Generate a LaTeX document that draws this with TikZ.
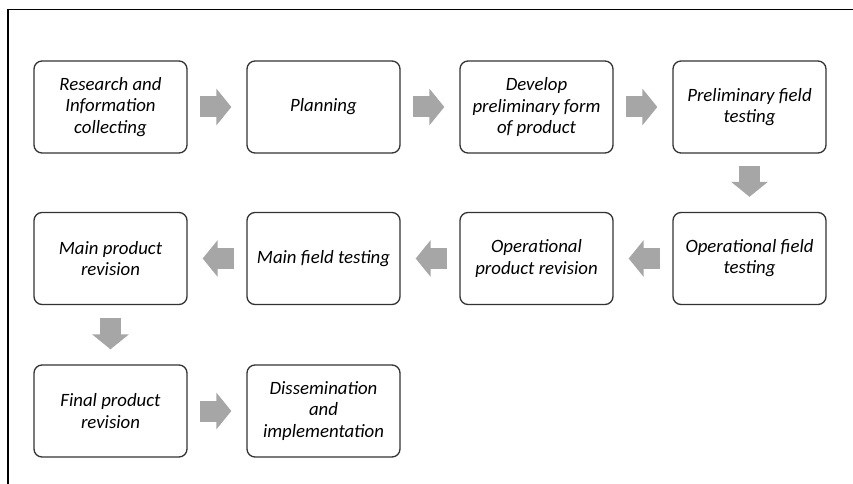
\documentclass[tikz,border=0pt]{standalone}
\usepackage{fontspec}
\setmainfont{Carlito}
\usetikzlibrary{arrows.meta}
\definecolor{arrowgray}{HTML}{A6A6A6}
\tikzset{
  stage/.style={draw=black!80, line width=0.75pt, rounded corners=0.16cm,
    minimum width=3.06cm, minimum height=1.84cm, align=center,
    font=\fontsize{10.7}{12}\selectfont\itshape},
  blk/.style={draw=arrowgray, line width=0.42cm,
    -{Triangle[length=0.3cm,width=0.72cm]},
    shorten <=0.25cm, shorten >=0.3cm}
}

\begin{document}
\begin{tikzpicture}
			\useasboundingbox (0,0) rectangle (17.06,-9.68);
			\draw[line width=0.85pt] (17.06,-0.19) -- (0.16,-0.19) -- (0.16,-9.68);
			
			\node[stage] (S1) at (2.21,-2.14){Research and\\Information\\collecting};
			\node[stage] (S2) at (6.47,-2.14){Planning};
			\node[stage] (S3) at (10.73,-2.14){Develop\\preliminary form\\of product};
			\node[stage] (S4) at (14.99,-2.14){Preliminary field\\testing};
			
			\node[stage] (S5) at (14.99,-5.17){Operational field\\testing};
			\node[stage] (S6) at (10.73,-5.17){Operational\\product revision};
			\node[stage] (S7) at (6.47,-5.17){Main field testing};
			\node[stage] (S8) at (2.21,-5.17){Main product\\revision};
			
			\node[stage] (S9) at (2.21,-8.22){Final product\\revision};
			\node[stage] (S10) at (6.47,-8.22){Dissemination\\and\\implementation};
			
			\draw[blk] (S1)--(S2);
			\draw[blk] (S2)--(S3);
			\draw[blk] (S3)--(S4);
			\draw[blk] (S4)--(S5);
			\draw[blk] (S5)--(S6);
			\draw[blk] (S6)--(S7);
			\draw[blk] (S7)--(S8);
			\draw[blk] (S8)--(S9);
			\draw[blk] (S9)--(S10);
		\end{tikzpicture}
\end{document}
